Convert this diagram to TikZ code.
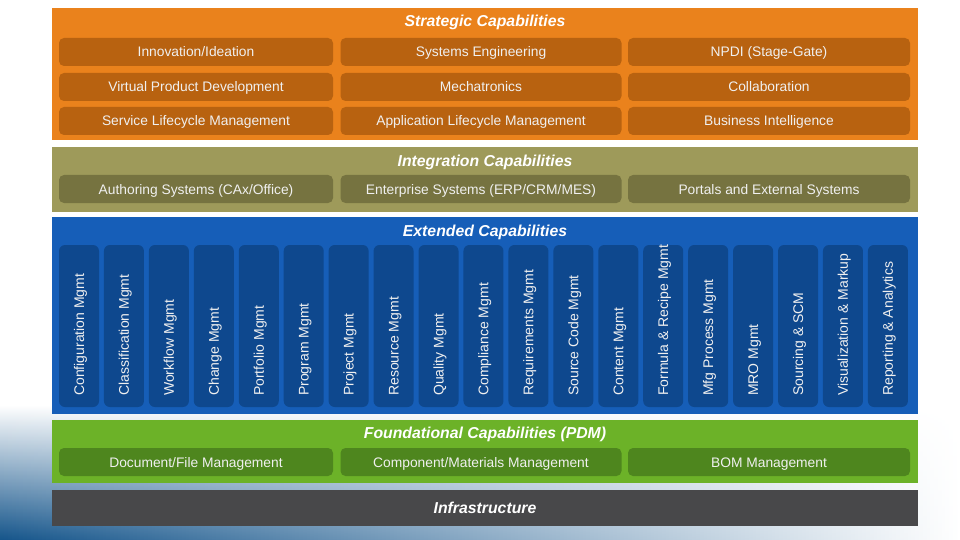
\documentclass[tikz,border=0pt]{standalone}
\usepackage{fontspec}
\setmainfont{Liberation Sans}
\usetikzlibrary{positioning, fadings}
\definecolor{stratBand}{RGB}{234, 130, 28}
\definecolor{stratBox}{RGB}{184, 98, 16}
\definecolor{integBand}{RGB}{158, 154, 90}
\definecolor{integBox}{RGB}{118, 115, 64}
\definecolor{extBand}{RGB}{22, 94, 184}
\definecolor{extBox}{RGB}{14, 72, 142}
\definecolor{foundBand}{RGB}{108, 178, 40}
\definecolor{foundBox}{RGB}{78, 134, 30}
\definecolor{infraBand}{RGB}{72, 72, 74}
\definecolor{bgBlue}{RGB}{20, 84, 138}

\begin{document}
\begin{tikzpicture}[x=1pt, y=-1pt, font=\fontsize{13.8}{16}\selectfont,
    band/.style={inner sep=0pt, minimum width=866},
    capbox/.style={rounded corners=5pt, inner sep=0pt, minimum height=28, text height=10pt, text depth=0pt, text=white!94!black},
    vbox/.style={rounded corners=6pt, inner sep=0pt, minimum width=40, minimum height=162, fill=extBox},
    vlabel/.style={rotate=90, anchor=west, inner sep=0pt, text height=10pt, text depth=0pt, font=\fontsize{14}{16}\selectfont, text=white!94!black},
    bandtitle/.style={font=\fontsize{15.8}{18}\selectfont\bfseries\itshape, text height=11pt, text depth=0pt, text=white}]
                \useasboundingbox (0, 0) rectangle (960, 540);
                % Blue shading in the lower left corner
                \shade[top color=white, bottom color=bgBlue, path fading=east] (0, 405) rectangle (960, 540);

                % Strategic
                \node[band, fill=stratBand, minimum height=132] (strat) at (485, 74) {};
                \node[bandtitle] (stratT) at (485, 21) {Strategic Capabilities};
                \node[capbox, fill=stratBox, minimum width=274] (s1) at (196, 52) {Innovation/Ideation};
                \node[capbox, fill=stratBox, minimum width=281] (s2) at (481, 52) {Systems Engineering};
                \node[capbox, fill=stratBox, minimum width=282] (s3) at (769, 52) {NPDI (Stage-Gate)};
                \node[capbox, fill=stratBox, minimum width=274] (s4) at (196, 87) {Virtual Product Development};
                \node[capbox, fill=stratBox, minimum width=281] (s5) at (481, 87) {Mechatronics};
                \node[capbox, fill=stratBox, minimum width=282] (s6) at (769, 87) {Collaboration};
                \node[capbox, fill=stratBox, minimum width=274] (s7) at (196, 121) {Service Lifecycle Management};
                \node[capbox, fill=stratBox, minimum width=281] (s8) at (481, 121) {Application Lifecycle Management};
                \node[capbox, fill=stratBox, minimum width=282] (s9) at (769, 121) {Business Intelligence};

                % Integration
                \node[band, fill=integBand, minimum height=64] (integ) at (485, 179.5) {};
                \node[bandtitle] (integT) at (485, 161) {Integration Capabilities};
                \node[capbox, fill=integBox, minimum width=274] (i1) at (196, 189) {Authoring Systems (CAx/Office)};
                \node[capbox, fill=integBox, minimum width=281] (i2) at (481, 189) {Enterprise Systems (ERP/CRM/MES)};
                \node[capbox, fill=integBox, minimum width=282] (i3) at (769, 189) {Portals and External Systems};

                % Extended
                \node[band, fill=extBand, minimum height=197] (ext) at (485, 315.5) {};
                \node[bandtitle] (extT) at (485, 231) {Extended Capabilities};
                \foreach \lbl [count=\i from 0] in {Configuration Mgmt, Classification Mgmt, Workflow Mgmt,
                    Change Mgmt, Portfolio Mgmt, Program Mgmt, Project Mgmt, Resource Mgmt, Quality Mgmt,
                    Compliance Mgmt, Requirements Mgmt, Source Code Mgmt, Content Mgmt, Formula \& Recipe Mgmt,
                    Mfg Process Mgmt, MRO Mgmt, Sourcing \& SCM, Visualization \& Markup, Reporting \& Analytics} {
                    \node[vbox] (e\i) at (79 + 44.94*\i, 326) {};
                    \node[vlabel] (e\i t) at (79 + 44.94*\i, 396) {\lbl};
                }

                % Foundational
                \node[band, fill=foundBand, minimum height=63] (found) at (485, 451.5) {};
                \node[bandtitle] (foundT) at (485, 433) {Foundational Capabilities (PDM)};
                \node[capbox, fill=foundBox, minimum width=274] (f1) at (196, 462) {Document/File Management};
                \node[capbox, fill=foundBox, minimum width=281] (f2) at (481, 462) {Component/Materials Management};
                \node[capbox, fill=foundBox, minimum width=282] (f3) at (769, 462) {BOM Management};

                % Infrastructure
                \node[band, fill=infraBand, minimum height=36] (infra) at (485, 508) {};
                \node[bandtitle] (infraT) at (485, 508) {Infrastructure};
            \end{tikzpicture}
\end{document}
